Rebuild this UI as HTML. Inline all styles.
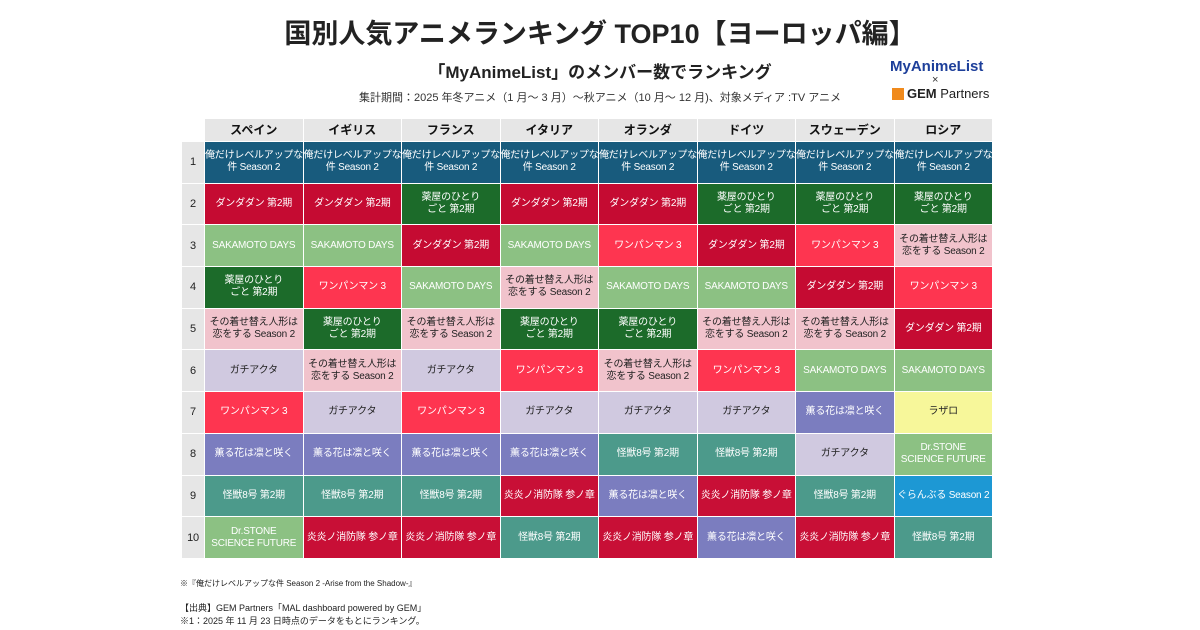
<!DOCTYPE html>
<html><head><meta charset="utf-8"><style>
body{margin:0;width:1200px;height:630px;background:#fff;font-family:"Liberation Sans","Noto Sans CJK JP",sans-serif;position:relative;overflow:hidden}
.t{position:absolute;left:0;width:1200px;text-align:center}
table{position:absolute;left:181px;top:118px;border-collapse:collapse;table-layout:fixed;width:811px}
td,th{padding:0;text-align:center;font-size:10px;line-height:12px;border:1px solid #fff;white-space:nowrap;overflow:hidden}
th{height:22px;background:#e6e6e6;font-size:12px;font-weight:bold;color:#111}
td{height:40.7px;color:#fff;letter-spacing:-0.2px}
td.n{background:#e6e6e6;color:#222;font-size:11px}
.A{background:#185b7d}.B{background:#c50b32}.C{background:#1c6b2a}.D{background:#8cc183}.E{background:#fe3550}.F{background:#f1c3cc;color:#222}.G{background:#d0c9e0;color:#222}.H{background:#7b7dbf}.I{background:#4c9a8b}.J{background:#f7f79a;color:#222}.K{background:#1d98d4}.L{background:#c80f36}
.s{position:absolute;font-size:9px;color:#222}
</style></head><body>
<div class="t" style="top:12px;font-size:27px;font-weight:bold;color:#222">国別人気アニメランキング TOP10【ヨーロッパ編】</div>
<div class="t" style="top:58px;font-size:17px;font-weight:bold;color:#222">「MyAnimeList」のメンバー数でランキング</div>
<div class="t" style="top:89px;font-size:11px;color:#333">集計期間：2025 年冬アニメ（1 月～ 3 月）～秋アニメ（10 月～ 12 月)、対象メディア :TV アニメ</div>
<div style="position:absolute;left:890px;top:58px;font-size:15px;font-weight:bold;color:#1d3f9a">MyAnimeList</div>
<div style="position:absolute;left:932px;top:74px;font-size:11px;color:#333">×</div>
<div style="position:absolute;left:892px;top:88px;width:12px;height:12px;background:#f08a1c"></div>
<div style="position:absolute;left:907px;top:86px;font-size:13px;color:#222"><b>GEM</b> Partners</div>
<table>
<colgroup><col style="width:23px"><col span="8" style="width:98.5px"></colgroup>
<tr><th style="background:#fff;border:none"></th><th>スペイン</th><th>イギリス</th><th>フランス</th><th>イタリア</th><th>オランダ</th><th>ドイツ</th><th>スウェーデン</th><th>ロシア</th></tr>
<tr><td class="n">1</td><td class="A">俺だけレベルアップな<br>件 Season 2</td><td class="A">俺だけレベルアップな<br>件 Season 2</td><td class="A">俺だけレベルアップな<br>件 Season 2</td><td class="A">俺だけレベルアップな<br>件 Season 2</td><td class="A">俺だけレベルアップな<br>件 Season 2</td><td class="A">俺だけレベルアップな<br>件 Season 2</td><td class="A">俺だけレベルアップな<br>件 Season 2</td><td class="A">俺だけレベルアップな<br>件 Season 2</td></tr>
<tr><td class="n">2</td><td class="B">ダンダダン 第2期</td><td class="B">ダンダダン 第2期</td><td class="C">薬屋のひとり<br>ごと 第2期</td><td class="B">ダンダダン 第2期</td><td class="B">ダンダダン 第2期</td><td class="C">薬屋のひとり<br>ごと 第2期</td><td class="C">薬屋のひとり<br>ごと 第2期</td><td class="C">薬屋のひとり<br>ごと 第2期</td></tr>
<tr><td class="n">3</td><td class="D">SAKAMOTO DAYS</td><td class="D">SAKAMOTO DAYS</td><td class="B">ダンダダン 第2期</td><td class="D">SAKAMOTO DAYS</td><td class="E">ワンパンマン 3</td><td class="B">ダンダダン 第2期</td><td class="E">ワンパンマン 3</td><td class="F">その着せ替え人形は<br>恋をする Season 2</td></tr>
<tr><td class="n">4</td><td class="C">薬屋のひとり<br>ごと 第2期</td><td class="E">ワンパンマン 3</td><td class="D">SAKAMOTO DAYS</td><td class="F">その着せ替え人形は<br>恋をする Season 2</td><td class="D">SAKAMOTO DAYS</td><td class="D">SAKAMOTO DAYS</td><td class="B">ダンダダン 第2期</td><td class="E">ワンパンマン 3</td></tr>
<tr><td class="n">5</td><td class="F">その着せ替え人形は<br>恋をする Season 2</td><td class="C">薬屋のひとり<br>ごと 第2期</td><td class="F">その着せ替え人形は<br>恋をする Season 2</td><td class="C">薬屋のひとり<br>ごと 第2期</td><td class="C">薬屋のひとり<br>ごと 第2期</td><td class="F">その着せ替え人形は<br>恋をする Season 2</td><td class="F">その着せ替え人形は<br>恋をする Season 2</td><td class="B">ダンダダン 第2期</td></tr>
<tr><td class="n">6</td><td class="G">ガチアクタ</td><td class="F">その着せ替え人形は<br>恋をする Season 2</td><td class="G">ガチアクタ</td><td class="E">ワンパンマン 3</td><td class="F">その着せ替え人形は<br>恋をする Season 2</td><td class="E">ワンパンマン 3</td><td class="D">SAKAMOTO DAYS</td><td class="D">SAKAMOTO DAYS</td></tr>
<tr><td class="n">7</td><td class="E">ワンパンマン 3</td><td class="G">ガチアクタ</td><td class="E">ワンパンマン 3</td><td class="G">ガチアクタ</td><td class="G">ガチアクタ</td><td class="G">ガチアクタ</td><td class="H">薫る花は凛と咲く</td><td class="J">ラザロ</td></tr>
<tr><td class="n">8</td><td class="H">薫る花は凛と咲く</td><td class="H">薫る花は凛と咲く</td><td class="H">薫る花は凛と咲く</td><td class="H">薫る花は凛と咲く</td><td class="I">怪獣8号 第2期</td><td class="I">怪獣8号 第2期</td><td class="G">ガチアクタ</td><td class="D">Dr.STONE<br>SCIENCE FUTURE</td></tr>
<tr><td class="n">9</td><td class="I">怪獣8号 第2期</td><td class="I">怪獣8号 第2期</td><td class="I">怪獣8号 第2期</td><td class="L">炎炎ノ消防隊 参ノ章</td><td class="H">薫る花は凛と咲く</td><td class="L">炎炎ノ消防隊 参ノ章</td><td class="I">怪獣8号 第2期</td><td class="K">ぐらんぶる Season 2</td></tr>
<tr><td class="n">10</td><td class="D">Dr.STONE<br>SCIENCE FUTURE</td><td class="L">炎炎ノ消防隊 参ノ章</td><td class="L">炎炎ノ消防隊 参ノ章</td><td class="I">怪獣8号 第2期</td><td class="L">炎炎ノ消防隊 参ノ章</td><td class="H">薫る花は凛と咲く</td><td class="L">炎炎ノ消防隊 参ノ章</td><td class="I">怪獣8号 第2期</td></tr>
</table>
<div class="s" style="left:180px;top:578px;font-size:8px">※『俺だけレベルアップな件 Season 2 -Arise from the Shadow-』</div>
<div class="s" style="left:180px;top:601px">【出典】GEM Partners「MAL dashboard powered by GEM」</div>
<div class="s" style="left:180px;top:614px">※1：2025 年 11 月 23 日時点のデータをもとにランキング。</div>
</body></html>
